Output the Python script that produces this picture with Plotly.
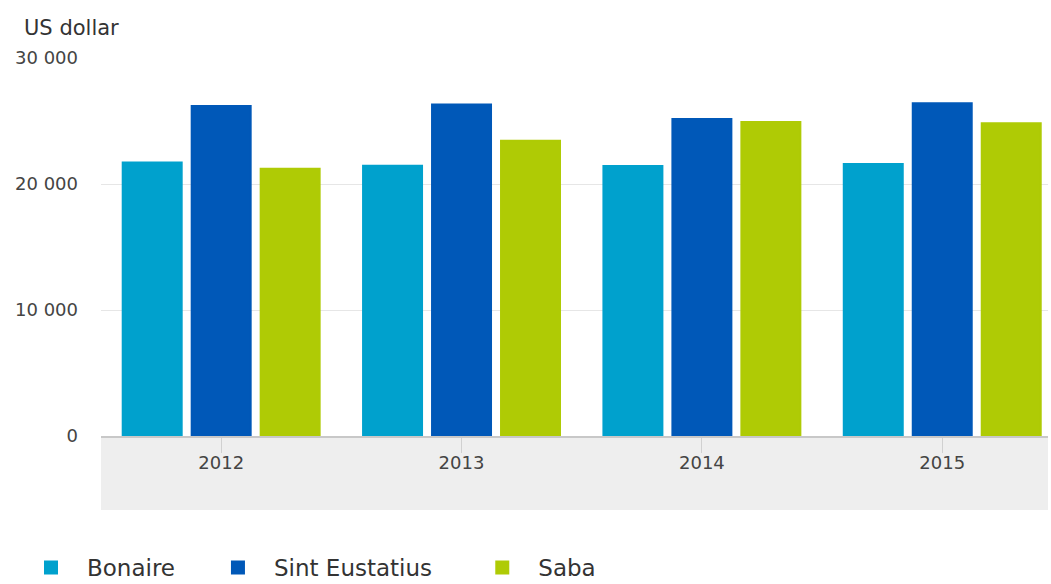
import plotly.graph_objects as go

years = ["2012", "2013", "2014", "2015"]
bonaire = [21700, 21450, 21430, 21590]
sint_eustatius = [26190, 26300, 25160, 26400]
saba = [21210, 23440, 24920, 24820]

series_names = ["Bonaire", "Sint Eustatius", "Saba"]
series_colors = ["#00a1cd", "#0058b8", "#afcb05"]
y_ticks = [0, 10000, 20000, 30000]

FONT = "DejaVu Sans, Verdana, sans-serif"
NB = "\u00a0"
legend_pad = [3, 4, 0]

fig = go.Figure()
for name, vals, col, pad in zip(series_names, [bonaire, sint_eustatius, saba], series_colors, legend_pad):
    fig.add_trace(go.Bar(
        x=years, y=vals, name=name + NB * pad,
        marker=dict(color=col, line=dict(width=2, color=col)),
        hovertemplate=name + ": %{y:,d}<extra>%{x}</extra>",
    ))

W, H = 1051, 584
L, R, T, B = 101, 3, 58, 148
ph = H - T - B

fig.update_layout(
    width=W, height=H,
    margin=dict(l=L, r=R, t=T, b=B, autoexpand=False),
    paper_bgcolor="white", plot_bgcolor="white",
    barmode="group", bargap=0.139, bargroupgap=0.145,
    separators=". ",
    font=dict(family=FONT, color="#333333"),
    showlegend=True,
    legend=dict(
        orientation="h", x=(15 - L) / (W - L - R), xanchor="left",
        y=-(546 - (H - B)) / ph, yanchor="top",
        font=dict(size=23, color="#333333", family=FONT),
        itemwidth=62, itemclick=False, itemdoubleclick=False,
        bgcolor="rgba(0,0,0,0)",
    ),
    xaxis=dict(
        type="category", range=[-0.5, 3.44],
        showgrid=False, showline=True, linecolor="#c8c8c8", linewidth=1.5,
        ticks="outside", ticklen=15, tickcolor="#d0d0d0", tickwidth=1,
        ticklabelstandoff=-5,
        tickfont=dict(size=18, color="#444444", family=FONT),
        zeroline=False, fixedrange=True,
    ),
    yaxis=dict(
        range=[0, 30000], tickvals=y_ticks, tickformat=",d",
        showgrid=True, gridcolor="#e6e6e6", gridwidth=1,
        zeroline=False, showline=False, ticks="",
        ticklabelstandoff=22,
        tickfont=dict(size=18, color="#444444", family=FONT),
        fixedrange=True,
    ),
    shapes=[dict(
        type="rect", xref="paper", yref="paper",
        x0=0, x1=1, y0=-(510 - (H - B)) / ph, y1=0,
        fillcolor="#eeeeee", line=dict(width=0), layer="below",
    )],
    annotations=[dict(
        text="US dollar", xref="paper", yref="paper",
        x=(22 - L) / (W - L - R), xanchor="left",
        y=((H - B) - 28) / ph, yanchor="middle",
        showarrow=False, font=dict(size=21, color="#333333", family=FONT),
    )],
)

fig.write_html(
    "out.html",
    config={"displayModeBar": False},
    post_script="document.body.style.margin='0px';document.body.style.overflow='hidden';",
)
